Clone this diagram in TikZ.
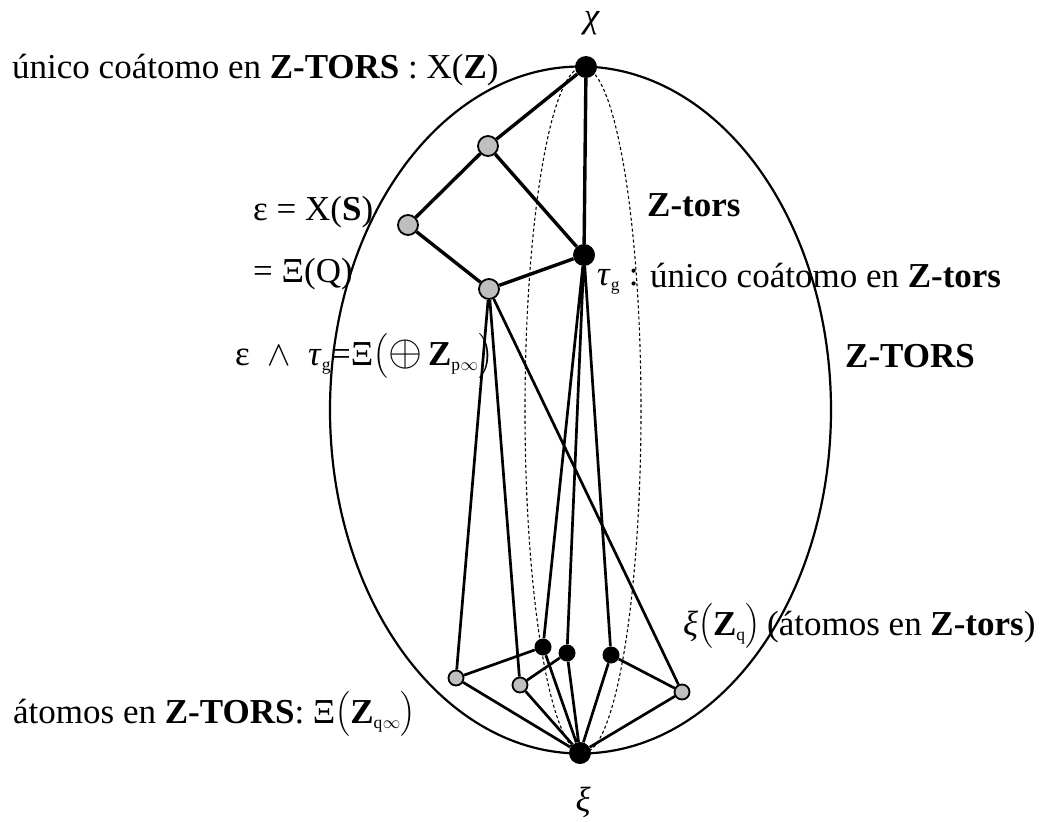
\RequirePackage{fix-cm}
\documentclass[tikz,border=0pt]{standalone}
\usepackage{amsmath}
\usepackage{graphicx}
\usepackage{fontspec}
\setmainfont{Liberation Serif}
\newcommand{\sub}[1]{_{\scriptscriptstyle\text{#1}}}
\begin{document}
\begin{tikzpicture}[x=1pt,y=-1pt,
  lbl/.style={inner sep=0pt, font=\fontsize{35}{40}\selectfont},
  bdot/.style={circle, fill=black, inner sep=0pt, minimum size=#1},
  gdot/.style={circle, fill=black!25, draw=black, line width=1.8pt, inner sep=0pt, minimum size=#1},
  topedge/.style={line width=3.4pt},
  botedge/.style={line width=2.7pt},
  dotline/.style={line width=1.1pt, dash pattern=on 3pt off 2.5pt}]
\useasboundingbox (0,0) rectangle (1053,822);
\fill[white] (0,0) rectangle (1053,822);
% ellipses
\draw[line width=2.2pt] (580.5,410) ellipse [x radius=250.5, y radius=343.5];
\draw[dotline] (583,410) ellipse [x radius=58, y radius=343];
% nodes
\node[bdot=22pt] (chi) at (586,67) {};
\node[gdot=20pt] (g1) at (488,146) {};
\node[gdot=20pt] (g2) at (408,225) {};
\node[bdot=22pt] (tau) at (584,255) {};
\node[gdot=20pt] (g3) at (489,289) {};
\node[bdot=17pt] (b1) at (543,647) {};
\node[bdot=17pt] (b2) at (567,653) {};
\node[bdot=17pt] (b3) at (611,655) {};
\node[gdot=15pt] (a1) at (456,678) {};
\node[gdot=15pt] (a2) at (520,685) {};
\node[gdot=15pt] (a3) at (682,692) {};
\node[bdot=22pt] (xi) at (580,753) {};
% edges
\draw[topedge] (chi)--(g1) (chi)--(tau) (g1)--(g2) (g1)--(tau) (g2)--(g3) (g3)--(tau);
\draw[botedge] (g3)--(a1) (g3)--(a2) (g3)--(a3) (tau)--(b1) (tau)--(b2) (tau)--(b3);
\draw[botedge] (a1)--(b1) (a2)--(b2) (b3)--(a3);
\draw[botedge] (a1)--(xi) (a2)--(xi) (b1)--(xi) (b2)--(xi) (b3)--(xi) (a3)--(xi);
% labels
\node[lbl, anchor=base] (chil) at (592,27) {\textit{χ}};
\node[lbl, anchor=base] (xil) at (583,811) {\textit{ξ}};
\node[lbl, anchor=base west] (topl) at (12,78) {único coátomo en \textbf{Z-TORS} : X(\textbf{Z})};
\node[lbl, anchor=base west] (epsl) at (253,220) {ε = X(\textbf{S})};
\node[lbl, anchor=base west] (xiql) at (253,282) {= Ξ(Q)};
\node[lbl, anchor=base west] (meetl) at (235,365) {ε\ \ $\wedge$\ \ \textit{τ}$\sub{g}$=Ξ$\bigl($\scalebox{1.25}{$\oplus$}\,\textbf{Z}$\sub{p}{}_{\scriptscriptstyle\infty}\bigr)$};
\node[lbl, anchor=base west] (taul) at (597,285) {\textit{τ}$\sub{g}$\ :};
\node[lbl, anchor=base west] (coatl) at (650,287) {único coátomo en \textbf{Z-tors}};
\node[lbl, anchor=base west] (ztors) at (647,216) {\textbf{Z-tors}};
\node[lbl, anchor=base west] (zTORS) at (845,367) {\textbf{Z-TORS}};
\node[lbl, anchor=base west] (xizq) at (683,635) {\textit{ξ}$\bigl($\textbf{Z}$\sub{q}\bigr)$};
\node[lbl, anchor=base west] (atl) at (767,635) {(átomos en \textbf{Z-tors})};
\node[lbl, anchor=base west] (atL) at (13,723) {átomos en \textbf{Z-TORS}: Ξ$\bigl($\textbf{Z}$\sub{q}{}_{\scriptscriptstyle\infty}\bigr)$};
\end{tikzpicture}
\end{document}
